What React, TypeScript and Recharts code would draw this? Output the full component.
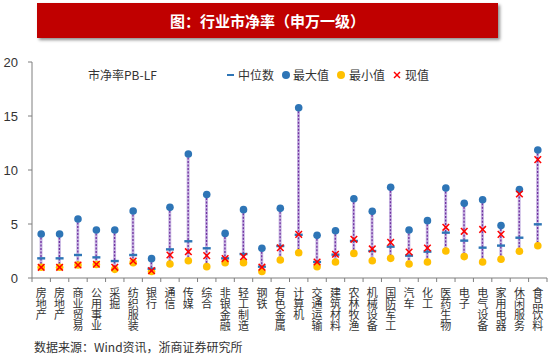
import React from "react";
import { ComposedChart, Bar, Line, XAxis, YAxis } from "recharts";

const categories = [
  "房地产", "房地产", "商业贸易", "公用事业", "采掘", "纺织服装", "银行", "通信",
  "传媒", "综合", "非银金融", "轻工制造", "钢铁", "有色金属", "计算机", "交通运输",
  "建筑材料", "农林牧渔", "机械设备", "国防军工", "汽车", "化工", "医药生物", "电子",
  "电气设备", "家用电器", "休闲服务", "食品饮料",
];
const maxValues = [4.07, 4.07, 5.46, 4.44, 4.44, 6.2, 1.79, 6.54, 11.48, 7.72, 4.13, 6.33, 2.75, 6.45, 15.77, 3.95, 4.38, 7.34, 6.17, 8.4, 4.44, 5.31, 8.33, 6.91, 7.25, 4.85, 8.2, 11.85];
const medianValues = [1.82, 1.82, 2.13, 1.91, 1.57, 2.13, 0.86, 2.65, 3.4, 2.75, 1.82, 2.22, 1.05, 2.96, 4.0, 1.48, 2.16, 3.43, 2.5, 2.9, 2.07, 2.44, 4.2, 3.46, 2.81, 3.0, 3.73, 4.97];
const minValues = [1.0, 1.0, 1.2, 1.25, 0.8, 1.42, 0.6, 1.3, 1.6, 1.05, 1.42, 1.42, 0.6, 1.67, 2.34, 1.05, 1.48, 2.28, 1.6, 1.82, 1.3, 1.48, 2.5, 1.98, 1.48, 1.73, 2.47, 2.99];
const currentValues = [0.99, 0.99, 1.2, 1.27, 0.99, 1.57, 0.68, 2.13, 2.44, 2.07, 1.8, 1.98, 1.0, 2.8, 4.04, 1.48, 2.2, 3.58, 2.69, 3.3, 2.41, 2.78, 4.69, 4.32, 4.5, 4.04, 7.78, 10.96];
const yTicks = [0, 5, 10, 15, 20];

const data = categories.map((name, i) => ({
  name,
  range: [minValues[i], maxValues[i]],
  max: maxValues[i],
  min: minValues[i],
  median: medianValues[i],
  current: currentValues[i],
}));

const W = 550;
const H = 355;
const LEFT = 32;
const RIGHT = 3;
const STEP = (W - LEFT - RIGHT) / categories.length;

const BLUE = "#2E75B6";
const YELLOW = "#FFC000";
const RED = "#FF0000";
const TEXT = "#333333";
const AXIS = "#7F7F7F";
const FONT = "'Noto Sans CJK SC', 'Noto Sans', sans-serif";

const RangeShape = (props: any) => {
  const { x, y, width, height } = props;
  if (x == null || y == null) return null;
  const cx = x + width / 2;
  return (
    <g>
      <line x1={cx} x2={cx} y1={y} y2={y + height} stroke="#C9B8E3" strokeWidth={3} />
      <line x1={cx} x2={cx} y1={y} y2={y + height} stroke="#7030A0" strokeWidth={1.3} strokeDasharray="2 1.5" />
    </g>
  );
};

const circleDot = (color: string) => (props: any) => {
  const { cx, cy, index } = props;
  if (cx == null || cy == null) return <g key={index} />;
  return <circle key={index} cx={cx} cy={cy} r={3.8} fill={color} />;
};

const medianDot = (props: any) => {
  const { cx, cy, index } = props;
  if (cx == null || cy == null) return <g key={index} />;
  return <rect key={index} x={cx - 4} y={cy - 1.2} width={8} height={2.4} fill={BLUE} />;
};

const crossDot = (props: any) => {
  const { cx, cy, index } = props;
  if (cx == null || cy == null) return <g key={index} />;
  const s = 3.3;
  return (
    <g key={index} stroke={RED} strokeWidth={1.5}>
      <line x1={cx - s} y1={cy - s} x2={cx + s} y2={cy + s} />
      <line x1={cx - s} y1={cy + s} x2={cx + s} y2={cy - s} />
    </g>
  );
};

// category labels run top-down in vertical writing mode
const XTick = (props: any) => {
  const { x, y, payload, index } = props;
  const half = STEP / 2;
  return (
    <g>
      <line x1={x - half} x2={x - half} y1={y} y2={y + 4} stroke={AXIS} />
      {index === categories.length - 1 && (
        <line x1={x + half} x2={x + half} y1={y} y2={y + 4} stroke={AXIS} />
      )}
      <text
        x={x}
        y={y + 9}
        fontSize={11}
        fill={TEXT}
        fontFamily={FONT}
        style={{ writingMode: "vertical-rl", textOrientation: "upright" }}
      >
        {payload.value}
      </text>
    </g>
  );
};

const LegendBox = () => (
  <div style={{ position: "absolute", left: 0, top: 66, width: W, height: 20, fontSize: 12, color: TEXT }}>
    <span style={{ position: "absolute", left: 88, top: 0 }}>市净率PB-LF</span>
    <span style={{ position: "absolute", left: 227, top: 8, width: 7, height: 2.4, background: BLUE }} />
    <span style={{ position: "absolute", left: 238, top: 0 }}>中位数</span>
    <span style={{ position: "absolute", left: 282, top: 5, width: 8, height: 8, borderRadius: 4, background: BLUE }} />
    <span style={{ position: "absolute", left: 293, top: 0 }}>最大值</span>
    <span style={{ position: "absolute", left: 337, top: 5, width: 8, height: 8, borderRadius: 4, background: YELLOW }} />
    <span style={{ position: "absolute", left: 349, top: 0 }}>最小值</span>
    <svg style={{ position: "absolute", left: 393, top: 5 }} width={8} height={8}>
      <line x1={1} y1={1} x2={7} y2={7} stroke={RED} strokeWidth={1.4} />
      <line x1={1} y1={7} x2={7} y2={1} stroke={RED} strokeWidth={1.4} />
    </svg>
    <span style={{ position: "absolute", left: 405, top: 0 }}>现值</span>
  </div>
);

export default function App() {
  return (
    <div style={{ position: "absolute", left: 0, top: 0, width: W, height: H, background: "#fff", fontFamily: FONT }}>
      <div
        style={{
          position: "absolute",
          left: 37,
          top: 3,
          width: 461,
          height: 35,
          background: "#C00000",
          boxShadow: "2px 2px 3px rgba(0,0,0,0.45)",
          color: "#fff",
          fontWeight: 700,
          fontSize: 15,
          lineHeight: "35px",
          textAlign: "center",
        }}
      >
        图：行业市净率（申万一级）
      </div>
      <ComposedChart
        width={W}
        height={H}
        data={data}
        margin={{ top: 62, right: RIGHT, bottom: 7, left: 0 }}
        barCategoryGap={0}
      >
        <XAxis
          dataKey="name"
          height={70}
          interval={0}
          tickLine={false}
          tickSize={0}
          tickMargin={0}
          axisLine={{ stroke: AXIS }}
          tick={<XTick />}
        />
        <YAxis
          width={LEFT}
          domain={[0, 20]}
          ticks={yTicks}
          tickSize={4}
          tickMargin={10}
          axisLine={{ stroke: AXIS }}
          tickLine={{ stroke: AXIS }}
          tick={{ fill: TEXT, fontSize: 13, fontFamily: "'Liberation Sans', sans-serif" }}
        />
        <Bar dataKey="range" shape={<RangeShape />} isAnimationActive={false} />
        <Line dataKey="max" stroke="none" dot={circleDot(BLUE)} activeDot={false} isAnimationActive={false} />
        <Line dataKey="min" stroke="none" dot={circleDot(YELLOW)} activeDot={false} isAnimationActive={false} />
        <Line dataKey="median" stroke="none" dot={medianDot} activeDot={false} isAnimationActive={false} />
        <Line dataKey="current" stroke="none" dot={crossDot} activeDot={false} isAnimationActive={false} />
      </ComposedChart>
      <LegendBox />
      <div style={{ position: "absolute", left: 34, top: 338, fontSize: 12, color: TEXT }}>
        数据来源：Wind资讯，浙商证券研究所
      </div>
    </div>
  );
}
